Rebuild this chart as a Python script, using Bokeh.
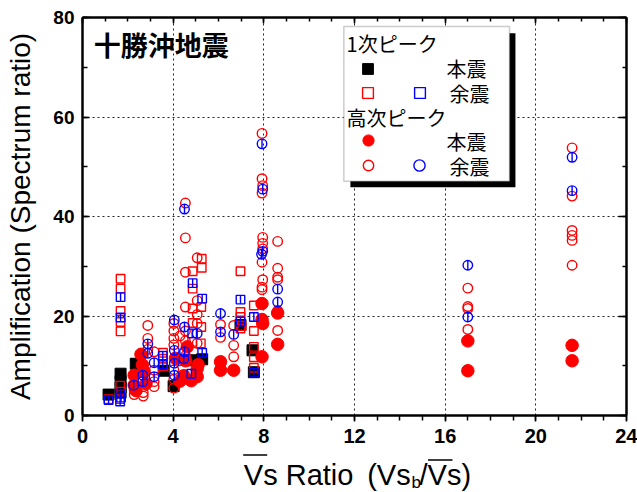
import numpy as np
from bokeh.plotting import figure
from bokeh.layouts import column
from bokeh.models import (Range1d, LinearAxis, FixedTicker, Label, BoxAnnotation,
                          Legend, LegendItem)
from bokeh.embed import file_html
from bokeh.resources import INLINE

# ---------------- data ----------------
# 1次ピーク 本震 (black filled squares)
p1_main_x = [1.15, 1.68, 1.68, 1.68, 1.68, 2.35, 3.58, 4.02, 4.84, 5.28, 6.97, 7.50, 7.56]
p1_main_y = [4.2, 8.4, 6.9, 5.6, 4.6, 10.4, 9.0, 5.9, 11.1, 11.3, 18.2, 13.1, 8.7]

# 1次ピーク 余震 (red open squares)
p1_aft_red_x = [1.15, 1.68, 1.68, 1.68, 1.68, 1.68, 1.66, 1.70, 1.66,
                3.55, 3.55, 3.55, 4.86, 4.86, 4.86, 4.86, 4.84,
                5.26, 5.26, 5.24, 5.24, 5.22, 6.97, 6.97, 6.97, 6.97, 7.02,
                7.56, 7.56, 7.56, 7.56, 7.56]
p1_aft_red_y = [3.3, 27.5, 25.5, 21.0, 18.8, 16.9, 6.0, 4.8, 3.3,
                12.6, 11.4, 9.9, 29.0, 25.5, 21.5, 18.6, 14.8,
                31.5, 29.7, 21.8, 17.8, 14.5, 29.0, 20.8, 19.8, 17.5, 18.0,
                22.1, 17.0, 13.8, 11.7, 9.6]

# 1次ピーク 余震 (blue squares)
p1_aft_blue_x = [1.15, 1.68, 1.68, 1.66, 1.70, 1.66, 3.54, 3.54,
                 4.86, 4.84, 4.80, 5.28, 5.28, 6.97, 6.97, 7.56, 7.56]
p1_aft_blue_y = [3.1, 23.8, 19.7, 4.4, 3.6, 2.8, 12.0, 10.3,
                 26.6, 16.5, 8.4, 23.5, 12.6, 23.3, 18.9, 19.8, 8.6]

# 高次ピーク 本震 (red filled circles)
ph_main_x = [2.28, 2.28, 2.36, 2.58, 2.64, 2.72, 2.80, 4.10, 4.30, 4.47, 4.55,
             4.62, 4.80, 5.06, 5.06, 5.10, 6.09, 6.09, 6.67,
             7.92, 7.92, 7.95, 7.92, 8.61, 8.61, 17.0, 17.0, 21.6, 21.6]
ph_main_y = [8.1, 6.1, 5.0, 12.3, 10.2, 8.8, 6.4, 11.5, 6.9, 8.0, 11.0,
             13.8, 7.0, 9.4, 7.8, 10.2, 10.8, 9.1, 9.1,
             22.5, 19.3, 18.5, 11.8, 20.6, 14.3, 15.0, 9.0, 14.1, 11.0]

# 高次ピーク 余震 (red open circles)
ph_aft_red_x = [2.28, 2.28, 2.68, 2.68, 2.68, 2.88, 2.88, 2.88,
                3.16, 3.16, 3.16, 3.16,
                4.03, 4.03, 4.03, 4.03, 4.03, 4.03, 4.03, 4.30, 4.30,
                4.54, 4.54, 4.54, 4.54, 4.54, 4.54, 4.54,
                5.06, 5.06, 5.06, 5.06, 5.06, 6.09, 6.09, 6.67, 6.67, 6.67,
                7.92, 7.92, 7.95, 7.92, 7.95, 7.95, 7.95, 7.92, 7.95, 7.92, 7.92,
                8.61, 8.61, 8.61, 8.61, 8.61, 8.61,
                17.0, 17.0, 17.0, 17.0,
                21.6, 21.6, 21.6, 21.6, 21.6, 21.6]
ph_aft_red_y = [5.1, 4.2, 5.8, 4.6, 3.9, 18.1, 15.5, 13.3,
                12.8, 9.1, 6.8, 5.8,
                18.5, 17.0, 15.5, 14.2, 9.2, 7.3, 5.5, 16.0, 11.0,
                42.7, 35.7, 28.8, 21.8, 17.0, 15.0, 12.0,
                31.7, 23.1, 20.3, 18.5, 14.5, 18.3, 15.7, 18.1, 14.1, 11.8,
                56.7, 47.6, 46.2, 44.7, 35.8, 34.6, 33.5, 30.8, 27.3, 25.8, 25.3,
                35.0, 29.6, 27.8, 27.3, 21.1, 17.1,
                25.6, 21.9, 21.5, 17.3,
                53.8, 44.1, 37.2, 36.2, 35.2, 30.2]

# 高次ピーク 余震 (blue circles)
ph_aft_blue_x = [2.26, 2.66, 2.66, 2.88, 2.88, 3.16, 3.16,
                 4.05, 4.05, 4.05, 4.05, 4.50, 4.50, 4.50, 4.47, 5.06,
                 6.09, 6.09, 6.67, 7.92, 7.95, 7.90, 7.95,
                 8.61, 8.61, 17.0, 17.0, 21.6, 21.6]
ph_aft_blue_y = [6.1, 8.1, 6.8, 14.4, 12.5, 10.6, 7.8,
                 19.2, 13.1, 10.5, 8.1, 41.5, 17.8, 12.8, 11.4, 16.5,
                 20.5, 16.8, 16.3, 54.6, 45.5, 32.4, 33.0,
                 25.4, 22.8, 30.2, 19.8, 51.9, 45.2]

x_ticks = [0, 4, 8, 12, 16, 20, 24]
y_ticks = [0, 20, 40, 60, 80]

# ---------------- main figure ----------------
MAIN_H = 452
FRAME_L, FRAME_B = 82, 415
PX_PER_Y = (FRAME_B - 17) / 80.0

p = figure(width=637, height=MAIN_H, output_backend="svg", toolbar_location=None,
           x_range=Range1d(0, 24), y_range=Range1d(0, 80),
           min_border_left=FRAME_L, min_border_right=11, min_border_top=17,
           min_border_bottom=MAIN_H - FRAME_B)
p.outline_line_color = None
p.background_fill_color = "white"

xticker = FixedTicker(ticks=x_ticks, minor_ticks=list(range(0, 25)))
yticker = FixedTicker(ticks=y_ticks, minor_ticks=list(range(0, 81, 10)))

xa = p.xaxis[0]
xa.ticker = xticker
xa.axis_line_width = 2.5
xa.major_tick_in = 0
xa.major_tick_out = 6
xa.minor_tick_in = 0
xa.minor_tick_out = 5
xa.major_tick_line_width = 1.5
xa.minor_tick_line_width = 1.5
xa.major_label_standoff = 7
xa.major_label_text_font = "Liberation Sans"
xa.major_label_text_font_style = "bold"
xa.major_label_text_font_size = "20px"
xa.major_label_text_color = "black"

ya = p.yaxis[0]
ya.ticker = yticker
ya.axis_line_width = 2.5
ya.major_tick_in = 7
ya.major_tick_out = 0
ya.minor_tick_in = 5
ya.minor_tick_out = 0
ya.major_tick_line_width = 1.5
ya.minor_tick_line_width = 1.5
ya.major_label_standoff = 8
ya.major_label_text_font = "Liberation Sans"
ya.major_label_text_font_style = "bold"
ya.major_label_text_font_size = "19px"
ya.major_label_text_color = "black"
ya.axis_label = "Amplification (Spectrum ratio)"
ya.axis_label_text_font = "Liberation Sans"
ya.axis_label_text_font_style = "normal"
ya.axis_label_text_font_size = "28px"
ya.axis_label_text_color = "black"
ya.axis_label_standoff = 14

top_ax = LinearAxis(ticker=xticker, axis_line_width=2.5,
                    major_tick_in=6, major_tick_out=0, minor_tick_in=4, minor_tick_out=0,
                    major_tick_line_width=1.5, minor_tick_line_width=1.5,
                    major_label_text_font_size="0px", major_label_standoff=0,
                    major_label_overrides={t: "" for t in x_ticks})
p.add_layout(top_ax, "above")
right_ax = LinearAxis(ticker=yticker, axis_line_width=2.5,
                      major_tick_in=8, major_tick_out=0, minor_tick_in=4, minor_tick_out=0,
                      major_tick_line_width=1.5, minor_tick_line_width=1.5,
                      major_label_text_font_size="0px", major_label_standoff=0,
                      major_label_overrides={t: "" for t in y_ticks})
p.add_layout(right_ax, "right")

for g, tk in ((p.xgrid[0], xticker), (p.ygrid[0], yticker)):
    g.ticker = tk
    g.grid_line_color = "#222222"
    g.grid_line_dash = "2 3"
    g.grid_line_width = 1

# ---------------- data marks ----------------
r_p1m = p.scatter(p1_main_x, p1_main_y, marker="square", size=11,
                  fill_color="black", line_color="black", line_width=1)
r_phm = p.scatter(ph_main_x, ph_main_y, marker="circle", size=12.5,
                  fill_color="red", line_color="red", line_width=1)
r_p1r = p.scatter(p1_aft_red_x, p1_aft_red_y, marker="square", size=8.5,
                  fill_color=None, line_color="red", line_width=1.4)
r_phr = p.scatter(ph_aft_red_x, ph_aft_red_y, marker="circle", size=9.5,
                  fill_color=None, line_color="red", line_width=1.4)
r_p1b = p.scatter(p1_aft_blue_x, p1_aft_blue_y, marker="square", size=8.5,
                  fill_color=None, line_color="blue", line_width=1.4)
p.scatter(p1_aft_blue_x, p1_aft_blue_y, marker="dash", angle=np.pi / 2, size=8.5,
          line_color="blue", line_width=1.4)
r_phb = p.scatter(ph_aft_blue_x, ph_aft_blue_y, marker="circle", size=9.5,
                  fill_color=None, line_color="blue", line_width=1.4)
p.scatter(ph_aft_blue_x, ph_aft_blue_y, marker="dash", angle=np.pi / 2, size=9.5,
          line_color="blue", line_width=1.4)

# vertical bar used only as legend glyph (no data)
r_bar = p.quad(left=[], right=[], top=[], bottom=[], fill_color="blue", line_color=None)

# ---------------- legend box ----------------
p.add_layout(BoxAnnotation(left=11.82, right=19.10, top=76.84, bottom=45.89,
                           fill_color="black", fill_alpha=1, line_color=None))
p.add_layout(BoxAnnotation(left=11.53, right=18.84, top=78.19, bottom=47.10,
                           fill_color="white", fill_alpha=1,
                           line_color="#555555", line_width=1.5))


def add_leg(renderer, cx, cy, gw, gh):
    vx = cx - gw / 2 - FRAME_L
    vy = FRAME_B - (cy + gh / 2)
    leg = Legend(items=[LegendItem(label=" ", renderers=[renderer])],
                 location=(vx, vy), glyph_width=gw, glyph_height=gh,
                 padding=0, margin=0, spacing=0, label_standoff=0,
                 label_width=0, label_height=0, label_text_font_size="1px",
                 border_line_alpha=0, background_fill_alpha=0)
    p.add_layout(leg)


add_leg(r_p1m, 367.5, 68, 27, 27)
add_leg(r_p1r, 367.5, 92, 27, 27)
add_leg(r_p1b, 419, 92, 27, 27)
add_leg(r_bar, 419, 92, 2, 11)
add_leg(r_phm, 367.5, 140, 28, 28)
add_leg(r_phr, 368, 164.5, 26, 26)
add_leg(r_phb, 419, 165, 28, 28)
add_leg(r_bar, 419, 165, 2, 13)


def ydata(page_y):
    return (FRAME_B - page_y) / PX_PER_Y


cjk = "Noto Sans CJK JP"
legend_texts = [("1次ピーク", 11.65, 42.5), ("本震", 16.06, 68), ("余震", 16.19, 92.5),
                ("高次ピーク", 11.65, 116.5), ("本震", 16.06, 140.5), ("余震", 16.19, 166)]
for t, lx, py in legend_texts:
    p.add_layout(Label(x=lx, y=ydata(py), text=t, text_font=cjk, text_font_size="20px",
                       text_color="black", text_baseline="middle", text_align="left"))

# title
p.add_layout(Label(x=0.5, y=ydata(43.5), text="十勝沖地震", text_font=cjk,
                   text_font_style="bold", text_font_size="27px", text_color="black",
                   text_baseline="middle"))

# ---------------- x axis title strip (pixel coordinates) ----------------
STRIP_H = 492 - MAIN_H
q = figure(width=637, height=STRIP_H, output_backend="svg", toolbar_location=None,
           x_range=Range1d(0, 637), y_range=Range1d(0, STRIP_H),
           min_border=0, x_axis_location=None, y_axis_location=None)
q.grid.visible = False
q.outline_line_color = None


def sy(page_y):
    return 492 - page_y


def sx(page_x):
    # the strip's frame is aligned with the main frame (82..626)
    return (page_x - FRAME_L) * 637.0 / 544.0


ft = "Liberation Sans"
for t, x0, mid, fs in (("Vs Ratio", 243.3, 474, "29px"), ("(Vs", 366.7, 474, "29px"),
                       ("b", 411, 481.5, "17px"), ("/Vs)", 419, 474, "29px")):
    q.add_layout(Label(x=sx(x0), y=sy(mid), text=t, text_font=ft, text_font_size=fs,
                       text_color="black", text_baseline="middle", text_align="left"))
for l, r, yc in ((242.7, 266.7, 454.5), (427.5, 452, 459.5)):
    q.add_layout(BoxAnnotation(left=sx(l), right=sx(r), top=sy(yc - 0.75),
                               bottom=sy(yc + 0.75),
                               fill_color="black", fill_alpha=1, line_color=None))

open("out.html", "w").write(file_html(column(p, q, spacing=0), INLINE))
